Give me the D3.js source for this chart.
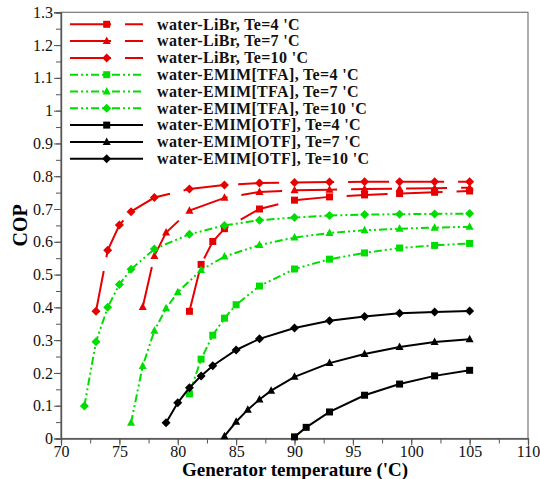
<!DOCTYPE html>
<html>
<head>
<meta charset="utf-8">
<script src="https://cdn.jsdelivr.net/npm/d3@7"></script>
<style>
  html, body { margin: 0; padding: 0; background: #fff; }
  svg { display: block; }
  text { font-family: "Liberation Serif", "Times New Roman", serif; }
</style>
</head>
<body>
<svg id="chart" width="540" height="479"></svg>
<script>
// ---- data ----
const libr4X  = [81, 82, 83, 84, 87, 90, 93, 96, 99, 102, 105];
const libr4Y  = [0.388, 0.531, 0.601, 0.640, 0.700, 0.727, 0.737, 0.743, 0.747, 0.751, 0.755];
const libr7X  = [77, 78, 79, 81, 84, 87, 90, 93, 96, 99, 102, 105];
const libr7Y  = [0.401, 0.557, 0.628, 0.695, 0.734, 0.752, 0.757, 0.759, 0.761, 0.762, 0.763, 0.765];
const libr10X = [73, 74, 75, 76, 78, 81, 84, 87, 90, 93, 96, 99, 102, 105];
const libr10Y = [0.388, 0.574, 0.651, 0.692, 0.735, 0.761, 0.773, 0.779, 0.781, 0.782, 0.783, 0.783, 0.783, 0.783];

const tfa4X  = [81, 82, 83, 84, 85, 87, 90, 93, 96, 99, 102, 105];
const tfa4Y  = [0.136, 0.242, 0.315, 0.367, 0.408, 0.465, 0.517, 0.547, 0.566, 0.581, 0.589, 0.595];
const tfa7X  = [76, 77, 78, 79, 80, 82, 84, 87, 90, 93, 96, 99, 102, 105];
const tfa7Y  = [0.048, 0.221, 0.329, 0.397, 0.446, 0.514, 0.555, 0.590, 0.613, 0.627, 0.635, 0.640, 0.643, 0.646];
const tfa10X = [72, 73, 74, 75, 76, 78, 81, 84, 87, 90, 93, 96, 99, 102, 105];
const tfa10Y = [0.099, 0.295, 0.400, 0.470, 0.516, 0.578, 0.623, 0.650, 0.666, 0.674, 0.680, 0.683, 0.684, 0.685, 0.686];

const otf4X  = [90, 91, 93, 96, 99, 102, 105];
const otf4Y  = [0.005, 0.034, 0.081, 0.132, 0.166, 0.191, 0.208];
const otf7X  = [84, 85, 86, 87, 88, 90, 93, 96, 99, 102, 105];
const otf7Y  = [0.007, 0.051, 0.088, 0.119, 0.146, 0.188, 0.230, 0.258, 0.279, 0.294, 0.303];
const otf10X = [79, 80, 81, 82, 83, 85, 87, 90, 93, 96, 99, 102, 105];
const otf10Y = [0.048, 0.109, 0.155, 0.191, 0.222, 0.270, 0.304, 0.337, 0.359, 0.372, 0.382, 0.386, 0.389];

const seriesNames = [
  "water-LiBr, Te=4 'C", "water-LiBr, Te=7 'C", "water-LiBr, Te=10 'C",
  "water-EMIM[TFA], Te=4 'C", "water-EMIM[TFA], Te=7 'C", "water-EMIM[TFA], Te=10 'C",
  "water-EMIM[OTF], Te=4 'C", "water-EMIM[OTF], Te=7 'C", "water-EMIM[OTF], Te=10 'C"
];
const xTicks = [70, 75, 80, 85, 90, 95, 100, 105, 110];
const yTicks = [0, 0.1, 0.2, 0.3, 0.4, 0.5, 0.6, 0.7, 0.8, 0.9, 1, 1.1, 1.2, 1.3];
const xTitle = "Generator temperature ('C)";
const yTitle = "COP";

// ---- styles ----
const RED = "#e60000", GREEN = "#00dd00", BLACK = "#000";
const series = [
  { x: libr4X,  y: libr4Y,  c: RED,   m: "square",   dash: "41,14" },
  { x: libr7X,  y: libr7Y,  c: RED,   m: "triangle", dash: "41,14" },
  { x: libr10X, y: libr10Y, c: RED,   m: "diamond",  dash: "41,14" },
  { x: tfa4X,   y: tfa4Y,   c: GREEN, m: "square",   dash: "8,3,2,3,2,3" },
  { x: tfa7X,   y: tfa7Y,   c: GREEN, m: "triangle", dash: "8,3,2,3,2,3" },
  { x: tfa10X,  y: tfa10Y,  c: GREEN, m: "diamond",  dash: "8,3,2,3,2,3" },
  { x: otf4X,   y: otf4Y,   c: BLACK, m: "square",   dash: null },
  { x: otf7X,   y: otf7Y,   c: BLACK, m: "triangle", dash: null },
  { x: otf10X,  y: otf10Y,  c: BLACK, m: "diamond",  dash: null }
].map((s, i) => Object.assign(s, { name: seriesNames[i] }));

const W = 540, H = 479;
const margin = { left: 61, right: 12, top: 12.3, bottom: 40.5 };
const svg = d3.select("#chart");
const x = d3.scaleLinear().domain([70, 110]).range([margin.left, W - margin.right]);
const y = d3.scaleLinear().domain([0, 1.3]).range([H - margin.bottom, margin.top]);

// frame
svg.append("rect")
  .attr("x", x(70)).attr("y", y(1.3))
  .attr("width", x(110) - x(70)).attr("height", y(0) - y(1.3))
  .attr("fill", "none").attr("stroke", "#777").attr("stroke-width", 1.2);

// minor ticks
const gx = svg.append("g").attr("transform", `translate(0,${y(0)})`);
gx.call(d3.axisBottom(x).tickValues(d3.range(70, 110.01, 2.5)).tickSize(5).tickFormat(""));
const gy = svg.append("g").attr("transform", `translate(${x(70)},0)`);
gy.call(d3.axisLeft(y).tickValues(d3.range(0, 1.3001, 0.05)).tickSize(5).tickFormat(""));
// major ticks
const gx2 = svg.append("g").attr("transform", `translate(0,${y(0)})`);
gx2.call(d3.axisBottom(x).tickValues(xTicks).tickSize(7).tickPadding(0).tickFormat(d3.format("d")));
const gy2 = svg.append("g").attr("transform", `translate(${x(70)},0)`);
gy2.call(d3.axisLeft(y).tickValues(yTicks).tickSize(7).tickPadding(1).tickFormat(d => d3.format("")(+d.toFixed(1))));

[gx, gy, gx2, gy2].forEach(g => {
  g.selectAll(".domain").attr("stroke", "#555").attr("stroke-width", 1.2);
  g.selectAll(".tick line").attr("stroke", "#555").attr("stroke-width", 1);
  g.selectAll("text").attr("font-size", 16).attr("fill", "#111");
});

// titles
svg.append("text").attr("x", 295).attr("y", 476).attr("text-anchor", "middle")
  .attr("font-size", 19).attr("font-weight", "bold").text(xTitle);
svg.append("text").attr("transform", `translate(27,${y(0.65)}) rotate(-90)`)
  .attr("text-anchor", "middle").attr("font-size", 20).attr("font-weight", "bold").text(yTitle);

// markers
function marker(g, type, cx, cy, color) {
  if (type === "square") {
    g.append("rect").attr("x", cx - 3.5).attr("y", cy - 3.5).attr("width", 7).attr("height", 7).attr("fill", color);
  } else if (type === "triangle") {
    g.append("path").attr("d", `M${cx},${cy - 4.5}L${cx + 4},${cy + 3}L${cx - 4},${cy + 3}Z`).attr("fill", color);
  } else {
    g.append("path").attr("d", `M${cx},${cy - 4.5}L${cx + 4.5},${cy}L${cx},${cy + 4.5}L${cx - 4.5},${cy}Z`).attr("fill", color);
  }
}

const line = d3.line().x(d => x(d[0])).y(d => y(d[1]));
const plot = svg.append("g");
series.forEach(s => {
  const pts = s.x.map((v, i) => [v, s.y[i]]);
  const p = plot.append("path").datum(pts).attr("d", line)
    .attr("fill", "none").attr("stroke", s.c).attr("stroke-width", 2);
  if (s.dash) p.attr("stroke-dasharray", s.dash);
  const mg = plot.append("g");
  pts.forEach(d => marker(mg, s.m, x(d[0]), y(d[1]), s.c));
});

// legend
const lg = svg.append("g");
series.forEach((s, i) => {
  const ly = 24.3 + i * 16.8;
  const p = lg.append("line").attr("x1", 70).attr("x2", 143).attr("y1", ly).attr("y2", ly)
    .attr("stroke", s.c).attr("stroke-width", 2);
  if (s.dash) p.attr("stroke-dasharray", s.dash);
  marker(lg, s.m, 106.7, ly, s.c);
  lg.append("text").attr("x", 157).attr("y", ly + 5.2).attr("font-size", 16).attr("font-weight", "bold")
    .attr("letter-spacing", 0.35).attr("fill", "#111").text(s.name);
});
</script>
</body>
</html>
